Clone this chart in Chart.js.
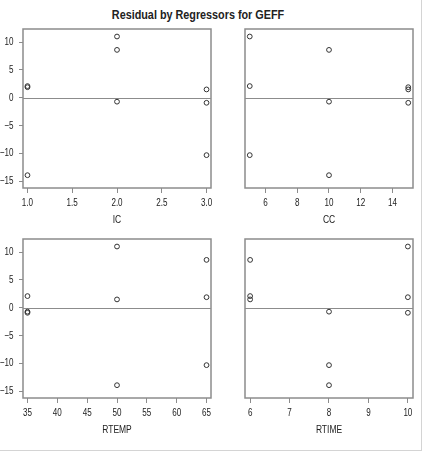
<!DOCTYPE html>
<html>
<head>
<meta charset="utf-8">
<script src="https://cdn.jsdelivr.net/npm/chart.js@4.4.1/dist/chart.umd.min.js"></script>
<style>
  body { margin: 0; background: #fff; }
  #wrap { position: relative; width: 438px; height: 457px; overflow: hidden; }
  #wrap canvas { position: absolute; }
  #title {
    position: absolute; left: 0; top: 8px; width: 396px; text-align: center;
    font: bold 12px/14px "Liberation Sans", Arial, sans-serif;
    color: #222; transform: scaleX(0.9); transform-origin: 198px 0;
  }
  #edgeR { position: absolute; left: 421px; top: 0; width: 1px; height: 450px; background: #d4d4d4; }
  #edgeB { position: absolute; left: 0; top: 450px; width: 422px; height: 1px; background: #d4d4d4; }
</style>
</head>
<body>
<div id="wrap">
  <div id="title">Residual by Regressors for GEFF</div>
  <canvas id="c_ic" width="216" height="212" style="left:0;top:20px"></canvas>
  <canvas id="c_cc" width="206" height="212" style="left:216px;top:20px"></canvas>
  <canvas id="c_rtemp" width="216" height="212" style="left:0;top:230px"></canvas>
  <canvas id="c_rtime" width="206" height="212" style="left:216px;top:230px"></canvas>
  <div id="edgeR"></div>
  <div id="edgeB"></div>
</div>
<script>
// residuals for the 9 runs and the regressor settings of each run
const residual = [11.0, 8.6, -0.7, -13.9, -10.3, 1.5, -0.9, 2.1, 1.9];
const ic    = [2, 2, 2, 1, 3, 3, 3, 1, 1];
const cc    = [5, 10, 10, 10, 5, 15, 15, 5, 15];
const rtemp = [50, 65, 35, 50, 65, 50, 35, 35, 65];
const rtime = [10, 6, 8, 8, 8, 6, 10, 6, 10];

const yTicks = [-15, -10, -5, 0, 5, 10];
const icTicks = [1.0, 1.5, 2.0, 2.5, 3.0];
const ccTicks = [6, 8, 10, 12, 14];
const rtempTicks = [35, 40, 45, 50, 55, 60, 65];
const rtimeTicks = [6, 7, 8, 9, 10];

const FONT = '"Liberation Sans", Arial, sans-serif';
const TXT = "#222";
const FRAME = "#8c8c8c";
const SQUEEZE = 0.77; // the original uses a narrow face

function narrowText(ctx, str, x, y, align, size) {
  ctx.save();
  ctx.translate(x, y);
  ctx.scale(SQUEEZE, 1);
  ctx.font = size + "px " + FONT;
  ctx.fillStyle = TXT;
  ctx.textAlign = align;
  ctx.textBaseline = "middle";
  ctx.fillText(str, 0, 0);
  ctx.restore();
}

// frame box, zero reference line and the narrow axis texts
const framePlugin = {
  id: "frame",
  beforeDatasetsDraw(chart) {
    const { ctx, chartArea: a, scales } = chart;
    ctx.save();
    ctx.strokeStyle = FRAME;
    ctx.lineWidth = 1;
    const y0 = Math.round(scales.y.getPixelForValue(0)) + 0.5;
    ctx.beginPath();
    ctx.moveTo(a.left, y0);
    ctx.lineTo(a.right, y0);
    ctx.stroke();
    ctx.lineWidth = 1.5;
    ctx.strokeRect(a.left, a.top, a.right - a.left, a.bottom - a.top);
    ctx.restore();
  },
  afterDraw(chart) {
    const { ctx, chartArea: a, scales } = chart;
    const p = chart.options.plugins.frame;
    p.xTicks.forEach(v => {
      const s = p.decimals ? v.toFixed(p.decimals) : String(v);
      narrowText(ctx, s, scales.x.getPixelForValue(v), a.bottom + 15, "center", 10.5);
    });
    narrowText(ctx, p.xName, (a.left + a.right) / 2, a.bottom + 32, "center", 11);
    if (p.showY) {
      yTicks.forEach(v => {
        narrowText(ctx, String(v).replace("-", "\u2212"), a.left - 9.5, scales.y.getPixelForValue(v), "right", 10.5);
      });
    }
  }
};

function makePanel(id, xs, xTicks, xName, xMin, xMax, showY, decimals) {
  const pts = xs.map((x, i) => ({ x: x, y: residual[i] }));
  new Chart(document.getElementById(id), {
    type: "scatter",
    data: {
      datasets: [{
        data: pts,
        pointStyle: "circle",
        pointRadius: 2.4,
        pointBorderWidth: 1,
        pointBorderColor: "#333",
        pointBackgroundColor: "rgba(0,0,0,0)"
      }]
    },
    options: {
      responsive: false,
      animation: false,
      layout: { padding: { top: 9, right: showY ? 4 : 9, left: showY ? 0 : 6, bottom: 0 } },
      plugins: {
        legend: { display: false },
        tooltip: { enabled: false },
        frame: { xTicks: xTicks, xName: xName, showY: showY, decimals: decimals }
      },
      scales: {
        x: {
          type: "linear",
          min: xMin,
          max: xMax,
          afterBuildTicks: (s) => { s.ticks = xTicks.map(v => ({ value: v })); },
          afterFit: (s) => { s.height = 44; },
          grid: { display: true, drawOnChartArea: false, drawTicks: true, tickLength: 5, color: FRAME, lineWidth: 1 },
          border: { display: false },
          ticks: { display: false }
        },
        y: {
          type: "linear",
          display: showY,
          min: -16.2,
          max: 12.35,
          afterBuildTicks: (s) => { s.ticks = yTicks.map(v => ({ value: v })); },
          afterFit: (s) => { s.width = 23; },
          grid: { display: true, drawOnChartArea: false, drawTicks: true, tickLength: 4, color: FRAME, lineWidth: 1 },
          border: { display: false },
          ticks: { display: false }
        }
      }
    },
    plugins: [framePlugin]
  });
}

makePanel("c_ic", ic, icTicks, "IC", 0.95, 3.05, true, 1);
makePanel("c_cc", cc, ccTicks, "CC", 4.7, 15.3, false, 0);
makePanel("c_rtemp", rtemp, rtempTicks, "RTEMP", 34.25, 65.75, true, 0);
makePanel("c_rtime", rtime, rtimeTicks, "RTIME", 5.87, 10.13, false, 0);
</script>
</body>
</html>
